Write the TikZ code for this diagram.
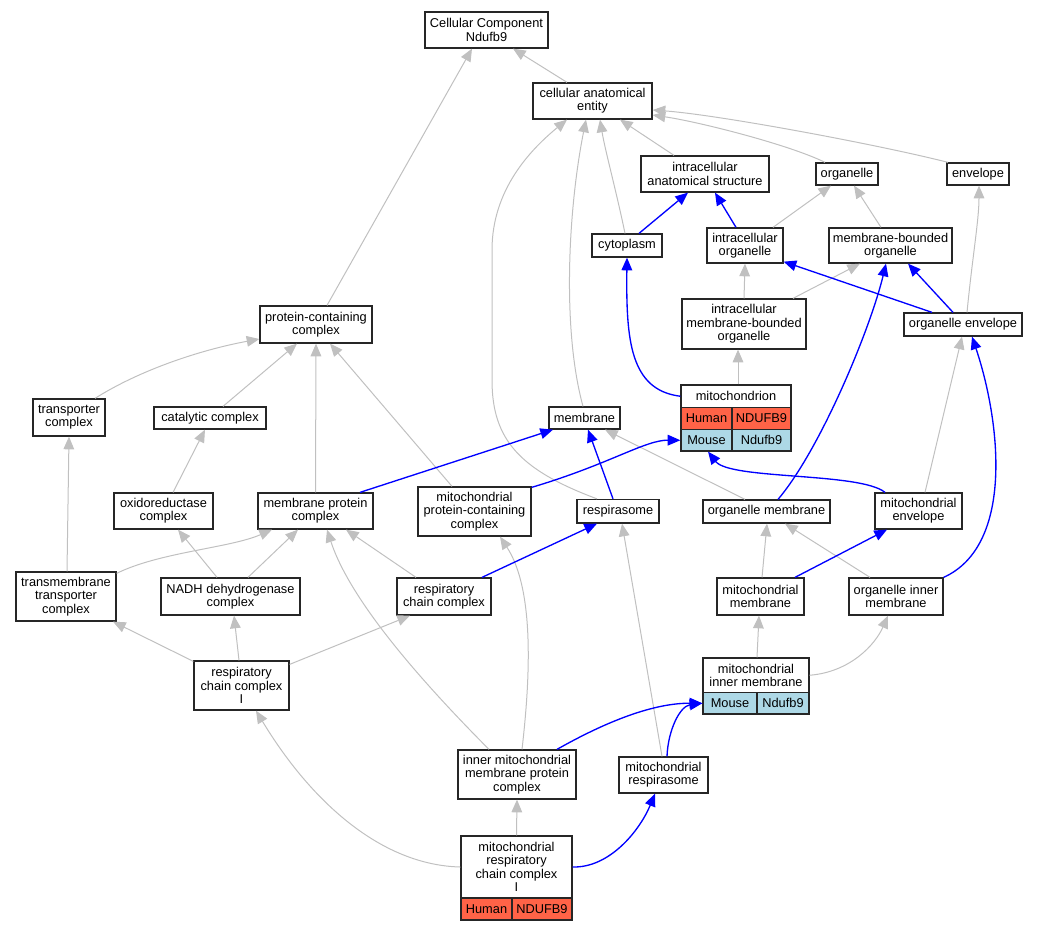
\documentclass[tikz,border=0pt]{standalone}
\usepackage{fontspec}
\setmainfont{Liberation Sans}
\usetikzlibrary{arrows.meta,calc}
\definecolor{ggray}{HTML}{C0C0C0}
\definecolor{tomatoc}{HTML}{FF6347}
\definecolor{lblue}{HTML}{ADD8E6}
\newcommand{\gnode}[7][box]{\node[#1, minimum width={(#5-#3)*0.75pt}, minimum height={(#6-#4)*0.75pt}] (#2) at ({(#3+#5)/2},{(#4+#6)/2}) {#7};}
\begin{document}
\begin{tikzpicture}[x=0.75pt,y=-0.75pt,
  box/.style={draw=black!85, line width=0.95pt, fill=white, inner sep=0pt, align=center, font=\fontsize{9.6pt}{10pt}\selectfont},
  human/.style={box, fill=tomatoc},
  mouse/.style={box, fill=lblue},
  gedge/.style={draw=ggray, line width=0.75pt, -{Triangle[length=9.5pt,width=8pt]}},
  bedge/.style={draw=blue, line width=1pt, -{Triangle[length=9.5pt,width=8pt]}}]
\useasboundingbox (0,0) rectangle (1037,931);
% nodes
\gnode{CC}{425}{12}{548}{48}{Cellular Component\\Ndufb9}
\gnode{cae}{533}{83}{652}{119}{cellular anatomical\\entity}
\gnode{ias}{641}{156}{769}{192}{intracellular\\anatomical structure}
\gnode{organelle}{816}{163}{878}{185}{organelle}
\gnode{envelope}{947}{163}{1009}{185}{envelope}
\gnode{cytoplasm}{592}{234}{662}{257}{cytoplasm}
\gnode{io}{707}{228}{783}{263}{intracellular\\organelle}
\gnode{mbo}{829}{228}{952}{263}{membrane-bounded\\organelle}
\gnode{imbo}{682}{299}{806}{349}{intracellular\\membrane-bounded\\organelle}
\gnode{oe}{904}{313}{1022}{336}{organelle envelope}
\gnode{pcc}{260}{306}{372}{343}{protein-containing\\complex}
\gnode{tc}{33}{399}{105}{436}{transporter\\complex}
\gnode{cat}{154}{407}{266}{429}{catalytic complex}
\gnode{membrane}{549}{407}{620}{429}{membrane}
\gnode{mito}{681}{385}{791}{407.5}{mitochondrion}
\gnode[human]{mitoH}{681}{407.5}{732}{429.5}{Human}
\gnode[human]{mitoHg}{732}{407.5}{791}{429.5}{NDUFB9}
\gnode[mouse]{mitoM}{681}{429.5}{732}{451}{Mouse}
\gnode[mouse]{mitoMg}{732}{429.5}{791}{451}{Ndufb9}
\gnode{oxc}{114}{493}{213}{529}{oxidoreductase\\complex}
\gnode{mpc}{258}{493}{373}{529}{membrane protein\\complex}
\gnode{mpcc}{418}{487}{531}{536}{mitochondrial\\protein-containing\\complex}
\gnode{resp}{577}{499.5}{659}{523}{respirasome}
\gnode{om}{703}{500}{830}{523}{organelle membrane}
\gnode{me}{875}{493}{962}{529}{mitochondrial\\envelope}
\gnode{ttc}{16}{572}{116}{621}{transmembrane\\transporter\\complex}
\gnode{nadh}{161}{578}{300}{615}{NADH dehydrogenase\\complex}
\gnode{rcc}{397}{578}{491}{615}{respiratory\\chain complex}
\gnode{mm}{717}{578}{804}{615}{mitochondrial\\membrane}
\gnode{oim}{849}{578}{943}{615}{organelle inner\\membrane}
\gnode{rcc1}{194}{661}{289}{710}{respiratory\\chain complex\\I}
\gnode{mim}{703}{658}{809}{692.5}{mitochondrial\\inner membrane}
\gnode[mouse]{mimM}{703}{692.5}{757}{714}{Mouse}
\gnode[mouse]{mimMg}{757}{692.5}{809}{714}{Ndufb9}
\gnode{immpc}{458}{750}{576}{799}{inner mitochondrial\\membrane protein\\complex}
\gnode{mr}{619}{757}{708}{793}{mitochondrial\\respirasome}
\gnode{mrcc}{461}{836}{572}{898}{mitochondrial\\respiratory\\chain complex\\I}
\gnode[human]{mrccH}{461}{898}{512}{920}{Human}
\gnode[human]{mrccHg}{512}{898}{572}{920}{NDUFB9}
% gray edges
\draw[gedge] ($(cae.north)+(-25.5,0)$) -- ($(CC.south)+(26.5,0)$);
\draw[gedge] ($(pcc.north)+(11,0)$) -- ($(CC.south)+(-14.5,0)$);
\draw[gedge] ($(ias.north)+(-31,0)$) -- ($(cae.south)+(27.5,0)$);
\draw[gedge] ($(organelle.north)+(-22,0)$) .. controls (790,145) and (700,122) .. ($(cae.east)+(0,14)$);
\draw[gedge] ($(envelope.north)+(-30,0)$) .. controls (880,145) and (720,115) .. ($(cae.east)+(0,9)$);
\draw[gedge] ($(cytoplasm.north)+(-2,0)$) .. controls (616,190) and (605,150) .. ($(cae.south)+(7.5,0)$);
\draw[gedge] ($(membrane.north)+(-1.5,0)$) .. controls (562,330) and (568,210) .. ($(cae.south)+(-6.5,0)$);
\draw[gedge] ($(resp.north)+(-21,0)$) .. controls (520,470) and (492,440) .. (492,380) -- (492,250) .. controls (492,190) and (530,150) .. ($(cae.south)+(-25.5,0)$);
\draw[gedge] ($(io.north)+(28,0)$) -- ($(organelle.south)+(-16,0)$);
\draw[gedge] ($(mbo.north)+(-9.5,0)$) -- ($(organelle.south)+(7,0)$);
\draw[gedge] (imbo.north) -- (io.south);
\draw[gedge] ($(imbo.north)+(49,0)$) -- ($(mbo.south)+(-30.5,0)$);
\draw[gedge] ($(oe.north)+(4,0)$) .. controls (972,260) and (979,220) .. ($(envelope.south)+(1,0)$);
\draw[gedge] ($(mito.north)+(2,0)$) -- ($(imbo.south)+(-6,0)$);
\draw[gedge] ($(me.north)+(6.5,0)$) -- ($(oe.south)+(-1,0)$);
\draw[gedge] ($(tc.north)+(26,0)$) .. controls (140,370) and (200,350) .. ($(pcc.west)+(0,14.5)$);
\draw[gedge] ($(cat.north)+(13,0)$) -- ($(pcc.south)+(-19,0)$);
\draw[gedge] (mpc.north) -- (pcc.south);
\draw[gedge] ($(mpcc.north)+(-22.5,0)$) -- ($(pcc.south)+(14,0)$);
\draw[gedge] ($(oxc.north)+(9.5,0)$) -- ($(cat.south)+(-5,0)$);
\draw[gedge] ($(om.north)+(-21.5,0)$) -- ($(membrane.south)+(20.5,0)$);
\draw[gedge] ($(ttc.north)+(1,0)$) -- (tc.south);
\draw[gedge] ($(ttc.north east)+(0,2)$) .. controls (160,552) and (230,548) .. ($(mpc.south)+(-43.5,0)$);
\draw[gedge] ($(nadh.north)+(-13.5,0)$) -- ($(oxc.south)+(14.5,0)$);
\draw[gedge] ($(nadh.north)+(17.5,0)$) -- ($(mpc.south)+(-17.5,0)$);
\draw[gedge] ($(rcc.north)+(-28,0)$) -- ($(mpc.south)+(30.5,0)$);
\draw[gedge] ($(immpc.north)+(-28,0)$) .. controls (420,680) and (350,600) .. ($(mpc.south)+(11.5,0)$);
\draw[gedge] ($(immpc.north)+(5,0)$) .. controls (530,680) and (535,590) .. ($(mpcc.south)+(25.5,0)$);
\draw[gedge] ($(mr.north)+(-1.5,0)$) -- ($(resp.south)+(4,0)$);
\draw[gedge] ($(mm.north)+(1.5,0)$) -- ($(om.south)+(0.5,0)$);
\draw[gedge] ($(oim.north)+(-26,0)$) -- ($(om.south)+(18.5,0)$);
\draw[gedge] ($(mim.north)+(1,0)$) -- ($(mm.south)+(-1.5,0)$);
\draw[gedge] (mim.east) .. controls (850,672) and (875,645) .. ($(oim.south)+(-8,0)$);
\draw[gedge] ($(rcc1.north west)+(0,1)$) -- ($(ttc.south)+(47,0)$);
\draw[gedge] ($(rcc1.north)+(-2.5,0)$) -- ($(nadh.south)+(3.5,0)$);
\draw[gedge] ($(rcc1.north east)+(0,4)$) -- ($(rcc.south)+(-34,0)$);
\draw[gedge] (mrcc.west) .. controls (380,865) and (310,800) .. ($(rcc1.south)+(14.5,0)$);
\draw[gedge] (mrcc.north) -- (immpc.south);
% blue edges
\draw[bedge] ($(cytoplasm.north)+(12,0)$) -- ($(ias.south)+(-17,0)$);
\draw[bedge] ($(io.north)+(-9,0)$) -- ($(ias.south)+(10,0)$);
\draw[bedge] (mito.west) .. controls (630,390) and (626,340) .. (cytoplasm.south);
\draw[bedge] ($(oe.north)+(-31,0)$) -- ($(io.south east)+(0,-2)$);
\draw[bedge] ($(oe.north)+(-10,0)$) -- ($(mbo.south)+(17.5,0)$);
\draw[bedge] ($(om.north)+(11.5,0)$) .. controls (820,450) and (870,330) .. ($(mbo.south)+(-4.5,0)$);
\draw[bedge] (oim.north east) .. controls (1015,545) and (1000,420) .. ($(oe.south)+(9,0)$);
\draw[bedge] ($(mpc.north)+(44.5,0)$) -- ($(membrane.south)+(-31.5,0)$);
\draw[bedge] ($(resp.north)+(-5,0)$) -- ($(membrane.south)+(3.5,0)$);
\draw[bedge] ($(mpcc.north east)+(0,1)$) .. controls (610,464) and (645,440) .. (mitoM.west);
\draw[bedge] ($(me.north)+(-33.5,0)$) .. controls (860,472) and (730,480) .. ($(mitoM.south)+(1.5,0)$);
\draw[bedge] ($(mm.north)+(34.5,0)$) -- ($(me.south)+(-31.5,0)$);
\draw[bedge] ($(rcc.north)+(38,0)$) -- ($(resp.south)+(-21,0)$);
\draw[bedge] ($(immpc.north)+(40,0)$) .. controls (600,725) and (650,703) .. (mimM.west);
\draw[bedge] ($(mr.north)+(3.5,0)$) .. controls (668,730) and (680,706) .. (mimM.west);
\draw[bedge] (mrcc.east) .. controls (610,868) and (640,830) .. ($(mr.south)+(-8.5,0)$);
\end{tikzpicture}
\end{document}
